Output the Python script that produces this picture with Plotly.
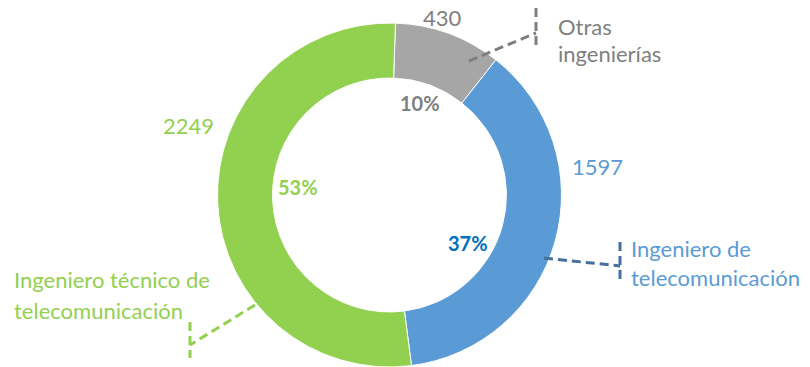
import plotly.graph_objects as go

categories = ["Otras ingenierías", "Ingeniero de telecomunicación", "Ingeniero técnico de telecomunicación"]
values = [430, 1597, 2249]
colors = ["#A6A6A6", "#5B9BD5", "#92D050"]

total = sum(values)
pcts = [f"{round(v * 100 / total)}%" for v in values]

W, H = 810, 367
FONT = "Lato"

fig = go.Figure(go.Pie(
    labels=categories,
    values=values,
    sort=False,
    direction="clockwise",
    rotation=2,
    hole=0.68,
    marker=dict(colors=colors, line=dict(color="white", width=1)),
    textinfo="none",
    hoverinfo="label+value+percent",
    domain=dict(x=[(389.5 - 172) / W, (389.5 + 172) / W], y=[0, 344 / H]),
    showlegend=False,
))


def px(x):
    return x / W


def py(y):
    return 1 - y / H


annotations = []


def add_text(text, x, y, color, size=22, bold=False, xanchor="center"):
    annotations.append(dict(
        text=f"<b>{text}</b>" if bold else text,
        x=px(x), y=py(y), xref="paper", yref="paper",
        xanchor=xanchor, yanchor="middle", showarrow=False,
        font=dict(family=FONT, size=size, color=color),
    ))


# value labels
add_text(str(values[0]), 442, 17, "#808080")
add_text(str(values[1]), 597, 167, "#5B9BD5")
add_text(str(values[2]), 188, 126, "#92D050")

# percentage labels
add_text(pcts[0], 420, 103, "#7F7F7F", size=20, bold=True)
add_text(pcts[1], 468, 243, "#0070C0", size=20, bold=True)
add_text(pcts[2], 298, 187, "#92D050", size=20, bold=True)

# category labels
add_text("Otras", 556, 26, "#808080", xanchor="left")
add_text("ingenierías", 556, 54, "#808080", xanchor="left")
add_text("Ingeniero de", 629, 248, "#5B9BD5", xanchor="left")
add_text("telecomunicación", 629, 277, "#5B9BD5", xanchor="left")
add_text("Ingeniero técnico de", 12, 279, "#92D050", xanchor="left")
add_text("telecomunicación", 12, 310, "#92D050", xanchor="left")

shapes = []


def add_line(x0, y0, x1, y1, color):
    shapes.append(dict(
        type="line", xref="paper", yref="paper",
        x0=px(x0), y0=py(y0), x1=px(x1), y1=py(y1),
        line=dict(color=color, width=3, dash="9px,5px"),
    ))


# leader lines with brackets
add_line(469, 61, 536, 33, "#7F7F7F")
add_line(536, 8, 536, 45, "#7F7F7F")
add_line(544, 258, 620, 266, "#44709D")
add_line(620, 242, 620, 279, "#44709D")
add_line(255, 305, 190, 345, "#92D050")
add_line(190, 322, 190, 358, "#92D050")

fig.update_layout(
    width=W, height=H,
    margin=dict(l=0, r=0, t=0, b=0),
    paper_bgcolor="white",
    plot_bgcolor="white",
    annotations=annotations,
    shapes=shapes,
    font=dict(family=FONT),
)

fig.write_html("out.html")
